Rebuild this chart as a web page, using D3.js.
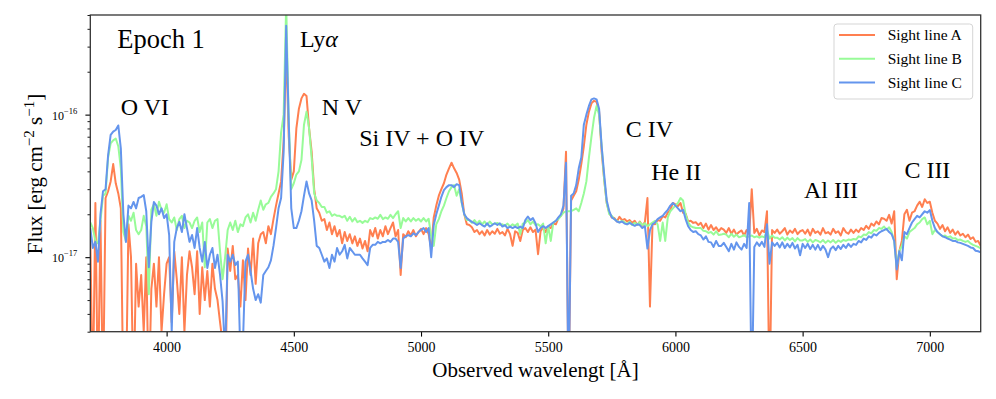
<!DOCTYPE html>
<html>
<head>
<meta charset="utf-8">
<script src="https://cdn.jsdelivr.net/npm/d3@7"></script>
<style>
  body { margin: 0; background: #fff; }
  text { font-family: "Liberation Serif", "Times New Roman", serif; fill: #000; }
</style>
</head>
<body>
<svg id="chart" width="996" height="399"></svg>
<script>
// spectra sampled every 10 A from 3700 A, flux in units of 1e-17 erg/cm2/s
const waveStart = 3700;
const waveStep = 10;
const fluxUnit = 1e-17;

const fluxA = [
  1.4, 0.1, 2.4, 0.1, 1.8, 0.1, 2.6, 2.9, 3.4, 4.5,        // 3700
  3.3, 2.8, 2.2, 0.1, 0.1, 1.7, 1.0, 0.1, 0.9, 0.45,       // 3800
  0.75, 0.3, 1.0, 0.1, 0.6, 0.9, 0.45, 1.0, 0.3, 0.55,     // 3900
  0.9, 1.0, 0.35, 1.1, 0.7, 0.4, 1.0, 0.3, 0.75, 1.1,      // 4000
  0.85, 0.55, 1.1, 0.4, 0.85, 0.5, 0.8, 0.45, 0.9, 0.6,    // 4100
  0.5, 0.35, 0.25, 0.1, 1.15, 0.8, 1.2, 0.7, 0.75, 0.45,   // 4200
  0.95, 0.5, 1.15, 0.75, 1.35, 0.65, 1.25, 1.45, 1.5, 1.25, // 4300
  1.65, 1.45, 1.85, 2.3, 2.8, 3.4, 6.5, 30, 7.0, 3.5,      // 4400
  4.0, 8.0, 11.0, 13.0, 14.0, 13.5, 8.0, 5.5, 3.0, 2.2,    // 4500
  2.05, 1.8, 1.85, 1.55, 1.75, 1.45, 1.65, 1.4, 1.55, 1.25, // 4600
  1.5, 1.3, 1.45, 1.25, 1.4, 1.2, 1.35, 1.15, 1.3, 1.1,    // 4700
  1.55, 1.4, 1.6, 1.35, 1.55, 1.4, 1.65, 1.45, 1.6, 1.75,  // 4800
  1.4, 1.55, 0.75, 1.45, 1.38, 1.52, 1.42, 1.55, 1.4, 1.5, // 4900
  1.58, 1.45, 1.6, 1.45, 1.15, 1.9, 2.3, 2.7, 3.0, 3.3,    // 5000
  3.8, 4.2, 4.6, 4.2, 3.9, 3.5, 2.8, 2.0, 1.7, 1.68,       // 5100
  1.62, 1.5, 1.55, 1.45, 1.52, 1.42, 1.55, 1.44, 1.52, 1.46, // 5200
  1.58, 1.46, 1.5, 1.42, 1.58, 1.45, 1.2, 1.52, 1.48, 1.3, // 5300
  1.55, 1.6, 1.5, 1.62, 1.5, 1.56, 1.05, 1.52, 1.62, 1.5,  // 5400
  1.64, 1.6, 1.72, 1.7, 1.88, 1.95, 2.2, 5.5, 0.1, 2.5,    // 5500
  2.7, 2.9, 3.5, 4.5, 6.0, 8.5, 10.5, 12.0, 12.5, 12.3,    // 5600
  10.5, 5.5, 3.5, 2.4, 2.05, 1.9, 1.88, 1.78, 1.92, 1.82,  // 5700
  1.85, 1.78, 1.82, 1.74, 1.8, 1.68, 1.78, 1.66, 1.76, 2.6, // 5800
  0.45, 1.72, 1.7, 1.82, 1.8, 1.94, 1.9, 2.05, 2.15, 2.4,  // 5900
  2.35, 2.28, 2.4, 2.05, 2.02, 1.78, 1.8, 1.74, 1.76, 1.68, // 6000
  1.74, 1.6, 1.72, 1.56, 1.68, 1.55, 1.62, 1.52, 1.6, 1.56, // 6100
  1.48, 1.6, 1.46, 1.56, 1.44, 1.5, 1.54, 1.42, 1.55, 1.45, // 6200
  3.0, 1.48, 1.58, 1.42, 1.54, 1.5, 2.1, 0.1, 1.55, 1.48,  // 6300
  1.56, 1.46, 1.52, 1.6, 1.44, 1.54, 1.48, 1.58, 1.45, 1.52, // 6400
  1.55, 1.46, 1.56, 1.42, 1.58, 1.48, 1.52, 1.44, 1.6, 1.47, // 6500
  1.5, 1.44, 1.58, 1.48, 1.52, 1.42, 1.6, 1.5, 1.46, 1.56, // 6600
  1.48, 1.56, 1.5, 1.6, 1.55, 1.66, 1.58, 1.72, 1.66, 1.78, // 6700
  1.7, 1.88, 1.86, 1.8, 1.98, 1.72, 2.1, 0.7, 1.1, 1.3,    // 6800
  2.0, 2.15, 1.8, 2.05, 2.1, 2.3, 2.45, 2.25, 2.55, 2.4,   // 6900
  2.45, 2.05, 1.8, 1.72, 1.58, 1.68, 1.52, 1.62, 1.48, 1.56, // 7000
  1.44, 1.52, 1.42, 1.46, 1.38, 1.44, 1.34, 1.38, 1.28, 1.3, // 7100
  1.2                                                      // 7200
];

const fluxB = [
  1.75, 1.6, 1.3, 1.25, 1.8, 2.7, 2.8, 5.0, 6.3, 6.6,      // 3700
  6.8, 6.0, 4.2, 1.5, 1.3, 1.95, 1.8, 2.05, 1.55, 1.45,    // 3800
  1.55, 1.95, 1.65, 0.55, 2.15, 2.35, 1.95, 2.45, 2.15, 2.05, // 3900
  2.35, 1.85, 1.75, 1.9, 1.55, 1.85, 1.95, 1.6, 1.8, 1.75, // 4000
  1.6, 1.8, 1.9, 1.5, 1.75, 0.85, 1.75, 1.85, 1.6, 1.8,    // 4100
  1.85, 1.1, 0.7, 1.0, 1.55, 1.75, 1.55, 1.8, 1.5, 1.7,    // 4200
  1.65, 1.9, 2.0, 1.75, 2.05, 1.8, 2.15, 2.5, 2.15, 2.35,  // 4300
  2.4, 2.65, 2.8, 3.0, 4.0, 7.5, 10.0, 60, 9.0, 3.0,       // 4400
  3.3, 3.8, 4.0, 4.8, 8.5, 10.5, 8.0, 5.0, 2.8, 2.5,       // 4500
  2.4, 2.25, 2.25, 2.05, 2.1, 1.95, 2.0, 1.95, 1.95, 1.9,  // 4600
  1.95, 1.8, 1.92, 1.78, 1.88, 1.76, 1.8, 1.74, 1.8, 1.76, // 4700
  1.88, 1.85, 1.9, 1.86, 1.98, 1.85, 1.9, 1.86, 1.98, 1.88, // 4800
  2.0, 2.1, 1.6, 1.88, 1.78, 1.88, 1.78, 1.88, 1.8, 1.86,  // 4900
  1.78, 1.88, 1.78, 1.86, 1.4, 1.2, 1.7, 1.85, 2.1, 2.3,   // 5000
  2.6, 2.9, 3.1, 3.2, 2.7, 3.0, 2.4, 2.0, 1.82, 1.82,      // 5100
  1.74, 1.82, 1.72, 1.8, 1.7, 1.78, 1.68, 1.78, 1.7, 1.72, // 5200
  1.74, 1.68, 1.7, 1.66, 1.72, 1.64, 1.7, 1.66, 1.72, 1.45, // 5300
  1.72, 1.74, 1.82, 1.7, 1.78, 1.68, 1.7, 1.64, 1.72, 1.25, // 5400
  1.65, 1.3, 1.75, 1.8, 1.85, 1.95, 2.05, 2.1, 2.1, 2.1,   // 5500
  2.15, 2.2, 2.1, 2.4, 2.8, 3.4, 5.0, 7.0, 9.5, 11.5,      // 5600
  10.0, 6.0, 3.5, 2.4, 2.0, 1.95, 1.85, 1.8, 1.75, 1.8,    // 5700
  1.76, 1.7, 1.77, 1.68, 1.74, 1.69, 1.76, 1.68, 1.73, 1.65, // 5800
  1.7, 1.75, 1.8, 1.7, 1.3, 1.75, 1.3, 1.9, 2.1, 2.2,      // 5900
  2.3, 2.4, 2.6, 2.5, 2.0, 1.75, 1.65, 1.62, 1.6, 1.6,     // 6000
  1.6, 1.53, 1.52, 1.48, 1.5, 1.44, 1.52, 1.43, 1.44, 1.46, // 6100
  1.44, 1.38, 1.46, 1.39, 1.44, 1.38, 1.4, 1.43, 1.38, 1.4, // 6200
  1.42, 1.38, 1.4, 1.37, 1.4, 1.38, 1.55, 1.35, 1.42, 1.37, // 6300
  1.37, 1.33, 1.38, 1.31, 1.37, 1.32, 1.36, 1.29, 1.36, 1.31, // 6400
  1.31, 1.34, 1.28, 1.33, 1.27, 1.32, 1.3, 1.27, 1.32, 1.26, // 6500
  1.31, 1.27, 1.32, 1.26, 1.31, 1.28, 1.32, 1.3, 1.33, 1.32, // 6600
  1.34, 1.33, 1.4, 1.38, 1.44, 1.43, 1.5, 1.47, 1.55, 1.53, // 6700
  1.6, 1.58, 1.64, 1.56, 1.62, 1.5, 1.3, 0.85, 1.1, 1.2,   // 6800
  1.4, 1.35, 1.5, 1.55, 1.6, 1.7, 1.75, 1.85, 1.9, 1.7,    // 6900
  1.8, 1.45, 1.55, 1.5, 1.45, 1.4, 1.42, 1.38, 1.4, 1.35,  // 7000
  1.36, 1.32, 1.33, 1.3, 1.28, 1.3, 1.25, 1.22, 1.2, 1.18, // 7100
  1.15                                                     // 7200
];

const fluxC = [
  1.6, 1.16, 1.28, 0.93, 2.0, 2.9, 3.0, 5.2, 7.2, 7.6,     // 3700
  7.8, 8.4, 5.8, 2.0, 1.28, 2.3, 2.2, 2.44, 2.2, 2.6,      // 3800
  2.65, 2.73, 2.1, 0.85, 1.77, 2.44, 2.3, 2.0, 2.2, 1.88,  // 3900
  2.0, 1.43, 0.3, 1.28, 1.6, 1.77, 1.5, 2.0, 1.6, 1.28,    // 4000
  1.43, 1.16, 1.6, 1.16, 0.93, 1.28, 0.84, 1.04, 1.16, 0.84, // 4100
  1.04, 0.75, 0.49, 0.2, 1.04, 0.93, 1.04, 0.88, 0.93, 0.2,  // 4200
  0.25, 0.93, 1.04, 0.8, 0.6, 0.5, 0.55, 0.48, 0.75, 0.8,  // 4300
  0.85, 0.95, 1.2, 1.6, 2.2, 2.6, 5.5, 42, 9.0, 2.2,       // 4400
  1.6, 1.6, 1.8, 2.1, 2.7, 3.4, 2.8, 2.5, 1.8, 1.2,        // 4500
  1.16, 1.04, 0.93, 0.98, 0.84, 1.04, 0.93, 1.16, 1.04, 1.1, // 4600
  1.22, 0.98, 1.16, 1.1, 1.04, 1.04, 1.04, 0.98, 0.93, 0.88, // 4700
  1.16, 1.22, 1.22, 1.28, 1.25, 1.28, 1.28, 1.32, 1.28, 1.35, // 4800
  1.35, 1.28, 0.84, 1.35, 1.4, 1.43, 1.4, 1.47, 1.43, 1.5, // 4900
  1.55, 1.6, 1.5, 1.6, 1.0, 1.68, 2.0, 2.3, 2.65, 2.95,    // 5000
  3.1, 3.2, 3.2, 3.1, 3.25, 3.2, 2.44, 2.0, 1.88, 1.82,    // 5100
  1.77, 1.73, 1.68, 1.73, 1.68, 1.64, 1.73, 1.64, 1.68, 1.73, // 5200
  1.68, 1.73, 1.64, 1.68, 1.6, 1.64, 1.6, 1.64, 1.6, 1.64, // 5300
  1.6, 1.82, 1.93, 1.82, 1.88, 1.73, 1.5, 1.6, 1.65, 1.6,  // 5400
  1.65, 1.7, 1.75, 1.8, 1.9, 2.0, 2.3, 4.6, 0.1, 2.7,      // 5500
  2.8, 3.2, 4.2, 5.0, 8.5, 10.0, 11.5, 12.8, 13.0, 12.8,   // 5600
  11.0, 6.0, 3.8, 2.5, 2.1, 1.9, 1.85, 1.78, 1.75, 1.78,   // 5700
  1.72, 1.7, 1.74, 1.7, 1.66, 1.7, 1.68, 1.6, 1.65, 1.15,  // 5800
  1.55, 1.7, 1.75, 1.85, 1.9, 1.95, 2.05, 2.15, 2.3, 2.4,  // 5900
  2.3, 2.2, 2.1, 2.15, 1.85, 1.65, 1.55, 1.5, 1.52, 1.45,  // 6000
  1.42, 1.33, 1.4, 1.28, 1.27, 1.18, 1.3, 1.2, 1.2, 1.26,  // 6100
  1.18, 1.1, 1.24, 1.13, 1.27, 1.18, 1.13, 1.24, 1.16, 2.4, // 6200
  0.1, 1.18, 1.27, 1.2, 1.28, 1.18, 1.7, 0.9, 1.27, 1.2,   // 6300
  1.26, 1.17, 1.27, 1.16, 1.24, 1.17, 1.26, 1.15, 1.22, 1.03, // 6400
  1.24, 1.16, 1.24, 1.14, 1.22, 1.13, 1.22, 1.12, 1.2, 1.13, // 6500
  1.0, 1.14, 1.19, 1.12, 1.2, 1.14, 1.22, 1.16, 1.24, 1.18, // 6600
  1.24, 1.22, 1.3, 1.27, 1.35, 1.32, 1.4, 1.37, 1.45, 1.42, // 6700
  1.48, 1.52, 1.55, 1.58, 1.5, 1.45, 1.3, 0.82, 1.1, 0.95, // 6800
  1.5, 1.45, 1.6, 1.75, 1.85, 1.95, 1.9, 2.0, 2.1, 2.05,   // 6900
  2.14, 1.8, 1.6, 1.5, 1.45, 1.4, 1.38, 1.35, 1.33, 1.3,   // 7000
  1.3, 1.27, 1.26, 1.24, 1.22, 1.2, 1.17, 1.16, 1.11, 1.1, // 7100
  1.08                                                     // 7200
];

const seriesNames = ["Sight line A", "Sight line B", "Sight line C"];
const seriesColors = ["#ff7f50", "#98fb98", "#6495ed"];
const xTicks = [4000, 4500, 5000, 5500, 6000, 6500, 7000];
const yMajorTicks = [1e-17, 1e-16];
const yMajorLabels = ["\u221217", "\u221216"];
const yMinorTicks = [3e-18, 4e-18, 5e-18, 6e-18, 7e-18, 8e-18, 9e-18,
  2e-17, 3e-17, 4e-17, 5e-17, 6e-17, 7e-17, 8e-17, 9e-17,
  2e-16, 3e-16, 4e-16, 5e-16];
// emission line labels: [text, wavelength, flux]
const lineLabels = [
  ["O VI", 3820, 1e-16],
  ["N V", 4610, 1e-16],
  ["Si IV + O IV", 4757, 6e-17],
  ["C IV", 5805, 7e-17],
  ["He II", 5905, 3.5e-17],
  ["Al III", 6505, 2.6e-17],
  ["C III", 6900, 3.6e-17]
];

const svg = d3.select("#chart");
const plotL = 90.3, plotR = 980.7, plotT = 15, plotB = 331.7;

const x = d3.scaleLinear().domain([3700, 7200]).range([plotL, plotR]);
const y = d3.scaleLog().domain([3e-18, 5e-16]).range([plotB, plotT]);

svg.append("clipPath").attr("id", "plotClip")
  .append("rect")
  .attr("x", plotL).attr("y", plotT)
  .attr("width", plotR - plotL).attr("height", plotB - plotT);

const series = [fluxA, fluxB, fluxC].map((f, i) => ({
  name: seriesNames[i], color: seriesColors[i], flux: f
}));

const line = d3.line()
  .x((d, i) => x(waveStart + i * waveStep))
  .y(d => y(Math.max(d, 0.01) * fluxUnit));

svg.append("g")
  .attr("clip-path", "url(#plotClip)")
  .selectAll("path")
  .data(series)
  .enter().append("path")
  .attr("d", d => line(d.flux))
  .attr("fill", "none")
  .attr("stroke", d => d.color)
  .attr("stroke-width", 2)
  .attr("stroke-linejoin", "round");

// x axis
const xAxis = svg.append("g")
  .attr("transform", `translate(0,${plotB})`)
  .call(d3.axisBottom(x).tickValues(xTicks).tickSize(4.9).tickPadding(5.5).tickFormat(d3.format("d")));
xAxis.select(".domain").remove();
xAxis.selectAll("line").attr("stroke", "#000").attr("stroke-width", 1.1);
xAxis.selectAll("text")
  .attr("font-family", "Liberation Serif, serif")
  .attr("font-size", 14)
  .attr("fill", "#000");

// y axis (log): minor and major ticks
const yMinor = svg.append("g")
  .attr("transform", `translate(${plotL},0)`)
  .call(d3.axisLeft(y).tickValues(yMinorTicks).tickSize(2.8).tickFormat(""));
yMinor.select(".domain").remove();
yMinor.selectAll("line").attr("stroke", "#000").attr("stroke-width", 0.9);

const yMajor = svg.append("g")
  .attr("transform", `translate(${plotL},0)`)
  .call(d3.axisLeft(y).tickValues(yMajorTicks).tickSize(4.9).tickFormat(""));
yMajor.select(".domain").remove();
yMajor.selectAll("line").attr("stroke", "#000").attr("stroke-width", 1.1);

const yLabels = svg.append("g")
  .selectAll("text")
  .data(yMajorTicks)
  .enter().append("text")
  .attr("x", 52)
  .attr("y", d => y(d) + 5)
  .attr("font-size", 12);
yLabels.append("tspan").text("10");
yLabels.append("tspan")
  .attr("dy", -6)
  .attr("font-size", 8.5)
  .text((d, i) => yMajorLabels[i]);

// frame
svg.append("rect")
  .attr("x", plotL).attr("y", plotT)
  .attr("width", plotR - plotL).attr("height", plotB - plotT)
  .attr("fill", "none")
  .attr("stroke", "#333")
  .attr("stroke-width", 1.3);

// axis labels
svg.append("text")
  .attr("x", (plotL + plotR) / 2)
  .attr("y", 377)
  .attr("text-anchor", "middle")
  .attr("font-size", 21)
  .text("Observed wavelengt [\u00c5]");

const yTitle = svg.append("text")
  .attr("transform", "translate(42,174) rotate(-90)")
  .attr("text-anchor", "middle")
  .attr("font-size", 21);
yTitle.append("tspan").text("Flux [erg cm");
yTitle.append("tspan").attr("dy", -8).attr("font-size", 15).text("\u22122");
yTitle.append("tspan").attr("dy", 8).text(" s");
yTitle.append("tspan").attr("dy", -8).attr("font-size", 15).text("\u22121");
yTitle.append("tspan").attr("dy", 8).text("]");

// annotations
svg.append("text")
  .attr("x", x(3806)).attr("y", y(2.95e-16))
  .attr("font-size", 26.5)
  .text("Epoch 1");

const lya = svg.append("text")
  .attr("x", x(4524)).attr("y", y(3e-16))
  .attr("font-size", 24);
lya.append("tspan").text("Ly");
lya.append("tspan").attr("font-style", "italic").text("\u03b1");

svg.append("g")
  .selectAll("text")
  .data(lineLabels)
  .enter().append("text")
  .attr("x", d => x(d[1]))
  .attr("y", d => y(d[2]))
  .attr("font-size", 24)
  .text(d => d[0]);

// legend
const legend = svg.append("g");
legend.append("rect")
  .attr("x", 834).attr("y", 24)
  .attr("width", 138.7).attr("height", 75)
  .attr("rx", 3)
  .attr("fill", "#fff").attr("fill-opacity", 0.8)
  .attr("stroke", "#d5d5d5");
const rows = legend.selectAll("g.row")
  .data(series)
  .enter().append("g")
  .attr("transform", (d, i) => `translate(0,${35 + i * 23.7})`);
rows.append("line")
  .attr("x1", 839).attr("x2", 875)
  .attr("stroke", d => d.color)
  .attr("stroke-width", 2);
rows.append("text")
  .attr("x", 887.7).attr("y", 5.3)
  .attr("font-size", 15.5)
  .text(d => d.name);
</script>
</body>
</html>
